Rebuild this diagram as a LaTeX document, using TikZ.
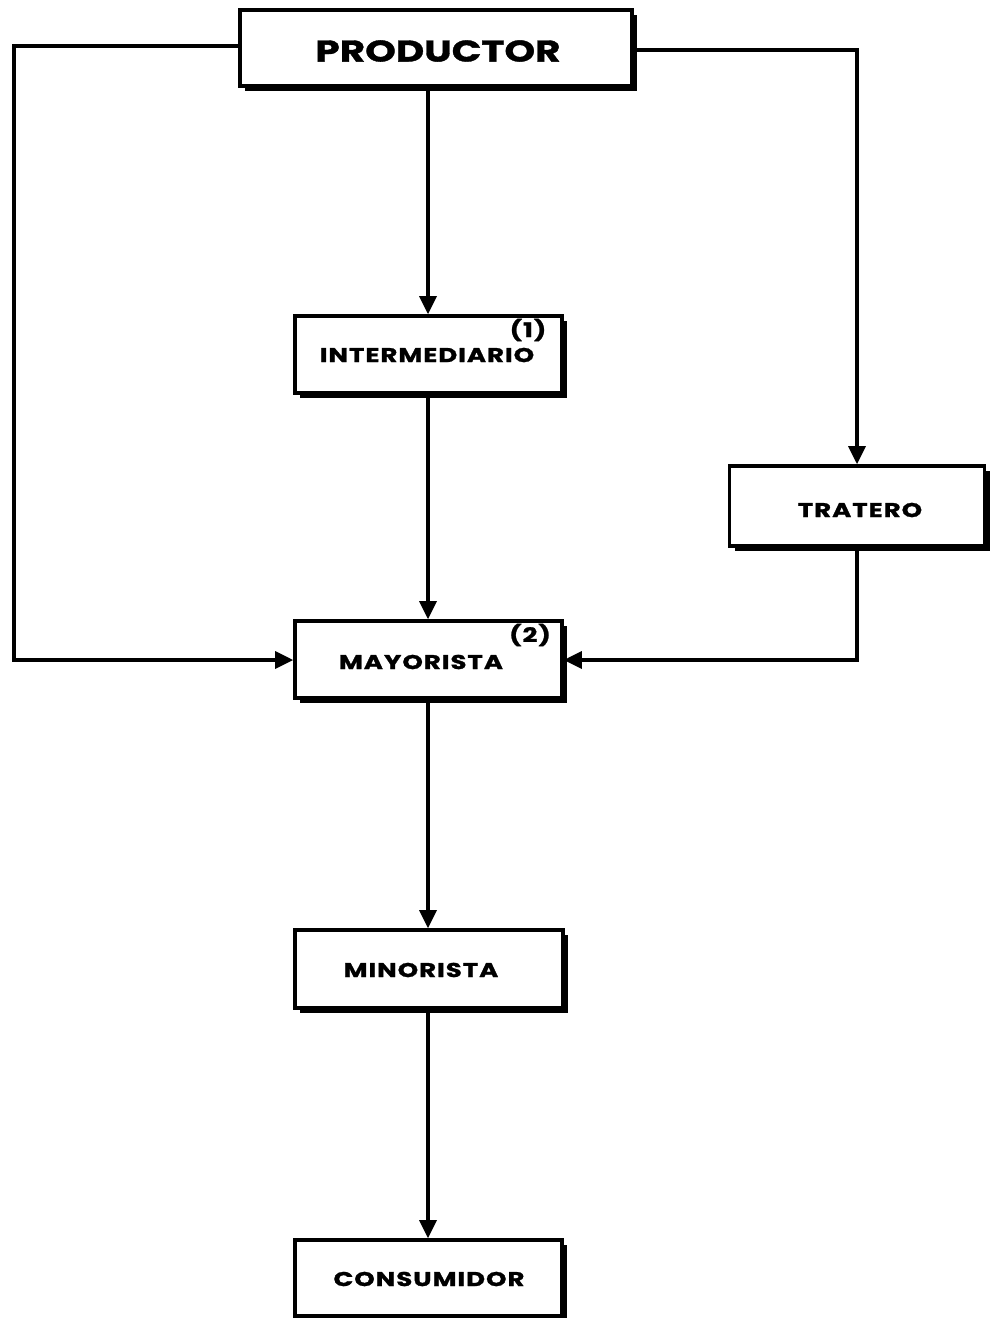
\documentclass[tikz,border=0pt]{standalone}
\usepackage{fontspec}
\setmainfont{Poppins}[UprightFont=* Bold, BoldFont=* Bold, FakeStretch=1.3, FakeBold=1.2]
\usetikzlibrary{arrows.meta,shadows}
\begin{document}
\begin{tikzpicture}[x=1pt,y=-1pt,
  box/.style={draw=black,line width=3.6pt,fill=white,inner sep=0pt,
    drop shadow={shadow xshift=5pt,shadow yshift=-5pt,fill=black,opacity=1}},
  lab/.style={font=\fontsize{20}{20}\selectfont\addfontfeature{LetterSpace=5}},
  conn/.style={line width=3.4pt,-{Triangle[length=18pt,width=17pt]}}]
\useasboundingbox (0,0) rectangle (994,1318);
\node[box,minimum width=392pt,minimum height=76pt] (prod) at (436,48) {};
\node[font=\fontsize{30}{30}\selectfont] at (438,51) {PRODUCTOR};
\node[box,minimum width=267pt,minimum height=77pt] (inter) at (428.5,354.5) {};
\node[lab] at (427,355) {INTERMEDIARIO};
\node[lab] at (528,330) {(1)};
\node[box,minimum width=255pt,minimum height=80pt] (trat) at (857,506) {};
\node[lab] at (860,510) {TRATERO};
\node[box,minimum width=267pt,minimum height=77pt] (may) at (428.5,659.5) {};
\node[lab] at (421,662) {MAYORISTA};
\node[lab] at (530,635) {(2)};
\node[box,minimum width=268pt,minimum height=78pt] (min) at (429,969) {};
\node[lab] at (421,970) {MINORISTA};
\node[box,minimum width=267pt,minimum height=76pt] (cons) at (428.5,1278) {};
\node[lab] at (429,1279) {CONSUMIDOR};
\coordinate (lt) at (14,46);
\coordinate (lb) at (14,660);
\coordinate (rt) at (857,50);
\coordinate (rb) at (857,660);
\draw[conn] (prod.south -| 428,0) -- (inter.north -| 428,0);
\draw[conn] (inter.south -| 428,0) -- (may.north -| 428,0);
\draw[conn] (may.south -| 428,0) -- (min.north -| 428,0);
\draw[conn] (min.south -| 428,0) -- (cons.north -| 428,0);
\draw[conn] (prod.west |- lt) -- (lt) -- (lb) -- (may.west |- lb);
\draw[conn] (prod.east |- rt) -- (rt) -- (trat.north);
\draw[conn] (trat.south) -- (rb) -- (may.east |- rb);
\end{tikzpicture}
\end{document}
